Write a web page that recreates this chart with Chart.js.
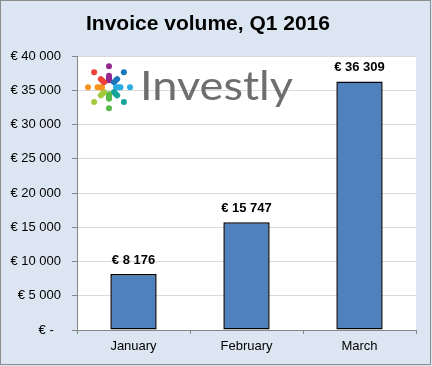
<!DOCTYPE html>
<html>
<head>
<meta charset="utf-8">
<script src="https://cdn.jsdelivr.net/npm/chart.js@4.4.1/dist/chart.umd.min.js"></script>
<style>
  html, body { margin: 0; padding: 0; background: #dce6f2; }
  #wrap { width: 432px; height: 366px; }
</style>
</head>
<body>
<div id="wrap"><canvas id="myChart" width="432" height="366"></canvas></div>
<script>
// data
var months = ['January', 'February', 'March'];
var invoiceVolume = [8176, 15747, 36309];
var yTicks = [0, 5000, 10000, 15000, 20000, 25000, 30000, 35000, 40000];

function euro(v) {
    if (v === 0) return '€ -  ';
    var s = String(Math.round(v)).replace(/\B(?=(\d{3})+(?!\d))/g, ' ');
    return '€ ' + s;
}

// background, white plot area, outer frame
var framePlugin = {
    id: 'frame',
    beforeDraw: function(chart) {
        var c = chart.ctx, a = chart.chartArea;
        c.save();
        c.fillStyle = '#dce6f2';
        c.fillRect(0, 0, chart.width, chart.height);
        c.fillStyle = '#ffffff';
        c.fillRect(a.left, a.top, a.right - a.left, a.bottom - a.top);
        c.restore();
    },
    afterDraw: function(chart) {
        var c = chart.ctx;
        c.save();
        c.strokeStyle = '#8c8c8c';
        c.lineWidth = 1;
        c.strokeRect(0.5, 0.5, chart.width - 2, chart.height - 2);
        c.restore();
    }
};

// Investly logo drawn in the top left of the plot area
var logoPlugin = {
    id: 'logo',
    beforeDatasetsDraw: function(chart) {
        var c = chart.ctx, a = chart.chartArea;
        var cx = a.left + 32, cy = a.top + 31;
        var colors = ['#92278f', '#1b75bb', '#29abe2', '#16a39a', '#57b947', '#a4c93d', '#f7941e', '#ed4036'];
        c.save();
        c.lineCap = 'round';
        for (var i = 0; i < 8; i++) {
            var ang = -Math.PI / 2 + i * Math.PI / 4;
            var dx = Math.cos(ang), dy = Math.sin(ang);
            c.strokeStyle = colors[i];
            c.lineWidth = 6;
            c.beginPath();
            c.moveTo(cx + dx * 7, cy + dy * 7);
            c.lineTo(cx + dx * 11.5, cy + dy * 11.5);
            c.stroke();
            c.fillStyle = colors[i];
            c.beginPath();
            c.arc(cx + dx * 21, cy + dy * 21, 3, 0, Math.PI * 2);
            c.fill();
        }
        // "Investly" wordmark
        c.font = '40px Lato';
        c.fillStyle = '#6d6e70';
        c.textBaseline = 'alphabetic';
        var w = c.measureText('Investly').width;
        c.translate(a.left + 63, a.top + 44);
        c.scale(153 / w, 1);
        c.fillText('Investly', 0, 0);
        c.restore();
    }
};

// value labels above the bars
var labelPlugin = {
    id: 'valueLabels',
    afterDatasetsDraw: function(chart) {
        var c = chart.ctx;
        var meta = chart.getDatasetMeta(0);
        c.save();
        c.font = 'bold 13px "Liberation Sans"';
        c.fillStyle = '#000000';
        c.textAlign = 'center';
        c.textBaseline = 'middle';
        meta.data.forEach(function(bar, i) {
            c.fillText(euro(chart.data.datasets[0].data[i]), bar.x, bar.y - 14);
        });
        c.restore();
    }
};

var ctx = document.getElementById('myChart').getContext('2d');
var myChart = new Chart(ctx, {
    type: 'bar',
    data: {
        labels: months,
        datasets: [{
            data: invoiceVolume,
            backgroundColor: '#4f81bd',
            borderColor: '#000000',
            borderWidth: 1.5,
            borderSkipped: false,
            barPercentage: 0.41,
            categoryPercentage: 1
        }]
    },
    options: {
        responsive: false,
        animation: false,
        layout: { padding: { left: 0, right: 16, top: 0, bottom: 0 } },
        plugins: {
            legend: { display: false },
            tooltip: { enabled: false },
            title: {
                display: true,
                text: 'Invoice volume, Q1 2016',
                color: '#000000',
                font: { family: 'Liberation Sans', size: 21, weight: 'bold', lineHeight: 1.2 },
                padding: { top: 12, bottom: 19 }
            }
        },
        scales: {
            x: {
                grid: {
                    offset: true,
                    drawOnChartArea: false,
                    drawTicks: true,
                    tickLength: 4,
                    tickColor: '#868686'
                },
                border: { color: '#868686' },
                ticks: {
                    color: '#000000',
                    font: { family: 'Liberation Sans', size: 13 },
                    padding: 5
                },
                afterFit: function(scale) { scale.height = 36; }
            },
            y: {
                min: 0,
                max: 40000,
                afterBuildTicks: function(scale) {
                    scale.ticks = yTicks.map(function(v) { return { value: v }; });
                },
                grid: {
                    color: '#d9d9d9',
                    tickLength: 5,
                    tickColor: '#868686'
                },
                border: { color: '#868686' },
                ticks: {
                    color: '#000000',
                    font: { family: 'Liberation Sans', size: 13 },
                    padding: 11,
                    callback: function(v) { return euro(v); }
                },
                afterFit: function(scale) { scale.width = 77; }
            }
        }
    },
    plugins: [framePlugin, logoPlugin, labelPlugin]
});
</script>
</body>
</html>
